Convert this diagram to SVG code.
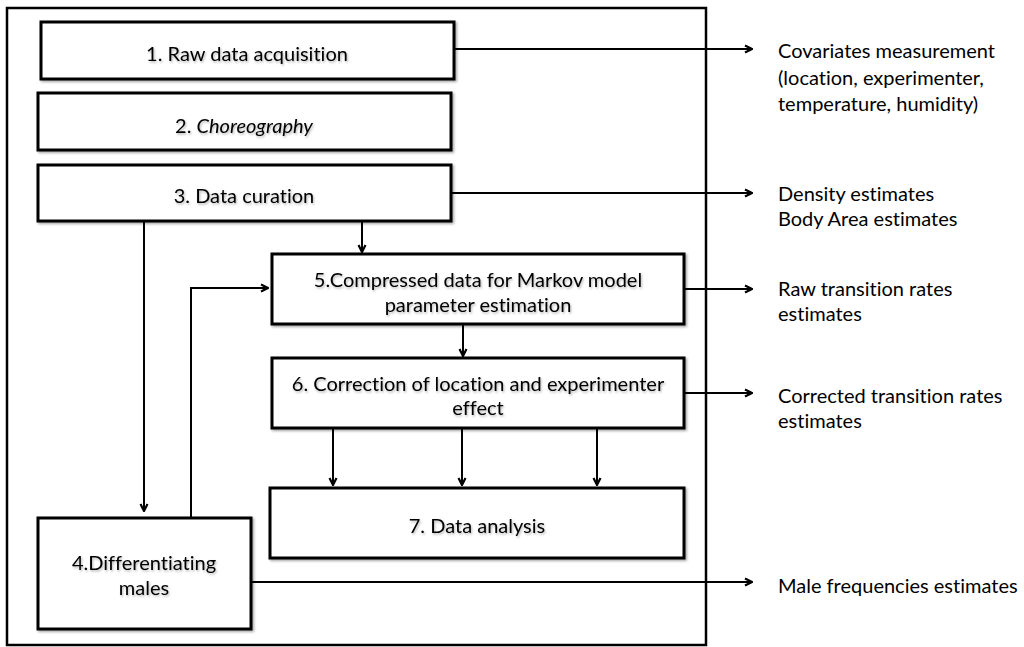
<svg xmlns="http://www.w3.org/2000/svg" width="1024" height="647" viewBox="0 0 1024 647">
<style>
.box{fill:#fff;stroke:#000;stroke-width:3;filter:url(#sh)}
.t{font-family:Lato,"Liberation Sans",sans-serif;font-size:20px;fill:#000;text-anchor:middle;dominant-baseline:central;font-variant-ligatures:none}
.tb{filter:url(#tsh)}
.r{font-family:Lato,"Liberation Sans",sans-serif;font-size:20px;fill:#000;dominant-baseline:central;font-variant-ligatures:none}
.c{fill:none;stroke:#000;stroke-width:2}
</style>
<defs>
<filter id="sh" x="-5%" y="-5%" width="115%" height="120%">
<feDropShadow dx="1.5" dy="1.5" stdDeviation="1" flood-color="#000" flood-opacity="0.35"/>
</filter>
<filter id="tsh" x="-5%" y="-20%" width="115%" height="150%">
<feDropShadow dx="1" dy="1.5" stdDeviation="0.8" flood-color="#000" flood-opacity="0.3"/>
</filter>
<marker id="ah" viewBox="0 0 10 10" refX="9" refY="5" markerWidth="10" markerHeight="10" markerUnits="userSpaceOnUse" orient="auto">
<path d="M2,1.5 L9,5 L2,8.5" fill="none" stroke="#000" stroke-width="2.2"/>
</marker>
</defs>
<rect x="0" y="0" width="1024" height="647" fill="#fff"/>
<rect id="frame" x="7" y="8" width="699" height="637" fill="none" stroke="#000" stroke-width="2.5"/>

<g id="connectors">
<path class="c" d="M454,49 H752" marker-end="url(#ah)"/>
<path class="c" d="M451,193 H752" marker-end="url(#ah)"/>
<path class="c" d="M684,289 H752" marker-end="url(#ah)"/>
<path class="c" d="M684,393 H752" marker-end="url(#ah)"/>
<path class="c" d="M251,582 H752" stroke-width="1.5" marker-end="url(#ah)"/>
<path class="c" d="M362,221 V252" marker-end="url(#ah)"/>
<path class="c" d="M144,221 V511" marker-end="url(#ah)"/>
<path class="c" d="M191,518 V288 H268" marker-end="url(#ah)"/>
<path class="c" d="M463,324 V356" marker-end="url(#ah)"/>
<path class="c" d="M333,428 V485" marker-end="url(#ah)"/>
<path class="c" d="M462,428 V485" marker-end="url(#ah)"/>
<path class="c" d="M597,428 V485" marker-end="url(#ah)"/>
</g>

<g id="n1">
<rect class="box" x="41" y="22" width="413" height="57"/>
<text class="t tb" x="247" y="53">1. Raw data acquisition</text>
</g>
<g id="n2">
<rect class="box" x="38" y="93" width="413" height="57"/>
<text class="t tb" x="244" y="125">2. <tspan font-style="italic">Choreography</tspan></text>
</g>
<g id="n3">
<rect class="box" x="38" y="165" width="413" height="56"/>
<text class="t tb" x="244" y="195">3. Data curation</text>
</g>
<g id="n5">
<rect class="box" x="272" y="254" width="412" height="70"/>
<text class="t tb" x="478" y="279">5.Compressed data for Markov model</text>
<text class="t tb" x="478" y="304">parameter estimation</text>
</g>
<g id="n6">
<rect class="box" x="272" y="358" width="412" height="70"/>
<text class="t tb" x="478" y="383">6. Correction of location and experimenter</text>
<text class="t tb" x="478" y="407">effect</text>
</g>
<g id="n7">
<rect class="box" x="270" y="488" width="414" height="70"/>
<text class="t tb" x="477" y="525">7. Data analysis</text>
</g>
<g id="n4">
<rect class="box" x="38" y="518" width="213" height="111"/>
<text class="t tb" x="144" y="562">4.Differentiating</text>
<text class="t tb" x="144" y="587">males</text>
</g>

<g id="outputs">
<text class="r" x="778" y="50">Covariates measurement</text>
<text class="r" x="778" y="77">(location, experimenter,</text>
<text class="r" x="778" y="103">temperature, humidity)</text>
<text class="r" x="778" y="193">Density estimates</text>
<text class="r" x="778" y="218">Body Area estimates</text>
<text class="r" x="778" y="288">Raw transition rates</text>
<text class="r" x="778" y="313">estimates</text>
<text class="r" x="778" y="395">Corrected transition rates</text>
<text class="r" x="778" y="420">estimates</text>
<text class="r" x="778" y="585">Male frequencies estimates</text>
</g>
</svg>
